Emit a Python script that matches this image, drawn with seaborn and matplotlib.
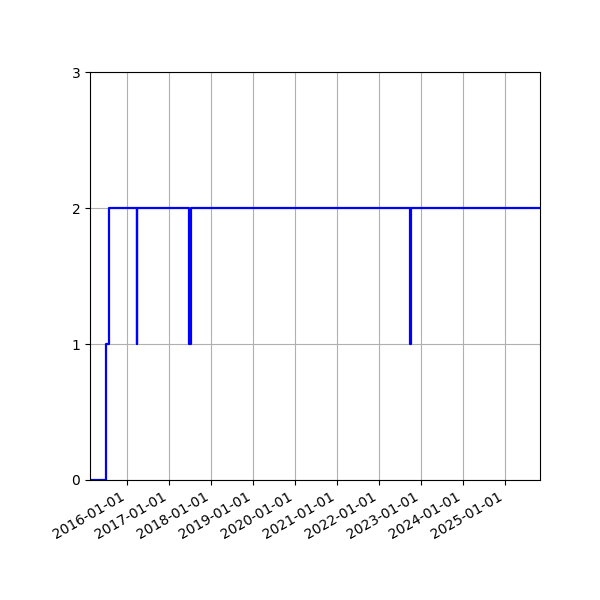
import matplotlib
matplotlib.use('Agg')
import matplotlib.pyplot as plt
import matplotlib.dates as mdates
import pandas as pd
import seaborn as sns

# 状态变化时间点 (steps-post)
dates = ['2015-02-13', '2015-06-29', '2015-07-31', '2016-03-26', '2016-03-31',
         '2017-06-21', '2017-07-10', '2022-09-26', '2022-10-02', '2025-11-01']
levels = [0, 1, 2, 1, 2, 1, 2, 1, 2, 2]


def main():
    df = pd.DataFrame({'date': pd.to_datetime(dates), 'level': levels})
    fig, ax = plt.subplots(figsize=(6, 6), dpi=100)
    sns.lineplot(data=df, x='date', y='level', drawstyle='steps-post',
                 color='blue', linewidth=1.6, ax=ax)
    ax.set_xlim(df['date'].min(), df['date'].max())
    ax.set_ylim(0, 3)
    ax.set_yticks([0, 1, 2, 3])
    ax.xaxis.set_major_locator(mdates.YearLocator())
    ax.xaxis.set_major_formatter(mdates.DateFormatter('%Y-%m-%d'))
    ax.set_xlabel('')
    ax.set_ylabel('')
    ax.grid(True)
    fig.autofmt_xdate()
    fig.subplots_adjust(left=0.15, right=0.9, top=0.88, bottom=0.2)
    fig.savefig('out.png', dpi=100)


if __name__ == '__main__':
    main()
